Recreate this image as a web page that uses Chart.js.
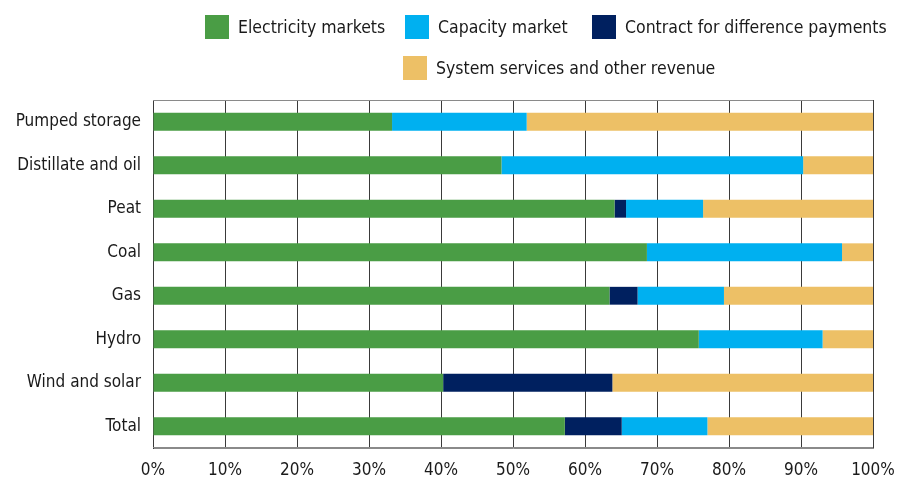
<!DOCTYPE html>
<html>
<head>
<meta charset="utf-8">
<script src="https://cdn.jsdelivr.net/npm/chart.js@4.4.1/dist/chart.umd.min.js"></script>
<style>
  html, body { margin: 0; padding: 0; background: #fff; }
  #wrap { position: relative; width: 900px; height: 480px; }
  #c { position: absolute; left: 0; top: 0; }
  .lg { position: absolute; display: flex; align-items: center; height: 24px;
        font-family: "Liberation Sans Narrow", "DejaVu Sans Condensed", "Roboto", sans-serif;
        font-size: 17.5px; color: #1a1a1a; white-space: nowrap; }
  .lg span.box { display: inline-block; width: 24px; height: 24px; margin-right: 9px; }
</style>
</head>
<body>
<div id="wrap">
  <canvas id="c" width="900" height="480"></canvas>
</div>
<script>
const categories = ["Pumped storage", "Distillate and oil", "Peat", "Coal", "Gas", "Hydro", "Wind and solar", "Total"];
const seriesNames = ["Electricity markets", "Capacity market", "Contract for difference payments", "System services and other revenue"];
const electricityMarkets = [33.2, 48.4, 64.1, 68.6, 63.4, 75.8, 40.3, 57.2];
const capacityMarket     = [18.7, 41.9, 10.7, 27.1, 12.0, 17.2, 0, 11.9];
const cfdPayments        = [0, 0, 1.6, 0, 3.9, 0, 23.5, 7.9];
const systemServices     = [48.1, 9.7, 23.6, 4.3, 20.7, 7.0, 36.2, 23.0];
const xTickLabels = ["0%", "10%", "20%", "30%", "40%", "50%", "60%", "70%", "80%", "90%", "100%"];

const colors = ["#4A9D45", "#00B0F0", "#00205F", "#EDC066"];
const FONT = '"Liberation Sans Narrow", "DejaVu Sans Condensed", Roboto, sans-serif';

// HTML legend (legend order)
const legendPos = [[205, 15], [405, 15], [592, 15], [403, 56]];
const wrap = document.getElementById('wrap');
seriesNames.forEach((name, i) => {
  const d = document.createElement('div');
  d.className = 'lg';
  d.style.left = legendPos[i][0] + 'px';
  d.style.top = legendPos[i][1] + 'px';
  const b = document.createElement('span');
  b.className = 'box';
  b.style.background = colors[i];
  d.appendChild(b);
  d.appendChild(document.createTextNode(name));
  wrap.appendChild(d);
});

const frame = {
  id: 'frame',
  afterDatasetsDraw(chart) {
    const a = chart.chartArea, ctx = chart.ctx;
    ctx.save();
    ctx.strokeStyle = '#8a8a8a';
    ctx.lineWidth = 1;
    ctx.beginPath();
    ctx.moveTo(a.left, a.top + 0.5); ctx.lineTo(a.right, a.top + 0.5);
    ctx.moveTo(a.left, a.bottom - 0.5); ctx.lineTo(a.right, a.bottom - 0.5);
    ctx.stroke();
    ctx.restore();
  }
};

// stacking order: electricity, CfD, capacity, system services
const stackOrder = [0, 2, 1, 3];
const seriesData = [electricityMarkets, capacityMarket, cfdPayments, systemServices];

new Chart(document.getElementById('c'), {
  type: 'bar',
  data: {
    labels: categories,
    datasets: stackOrder.map(i => ({
      label: seriesNames[i],
      data: seriesData[i],
      backgroundColor: colors[i],
      borderWidth: 0,
      barPercentage: 0.41,
      categoryPercentage: 1.0
    }))
  },
  options: {
    indexAxis: 'y',
    responsive: false,
    animation: false,
    devicePixelRatio: 1,
    layout: { padding: { top: 100, right: 27, bottom: 0, left: 0 } },
    plugins: { legend: { display: false }, tooltip: { enabled: false } },
    scales: {
      x: {
        stacked: true,
        min: 0, max: 100,
        ticks: {
          stepSize: 10,
          padding: 12,
          color: '#1a1a1a',
          font: { family: FONT, size: 17 },
          callback: (v, i) => xTickLabels[i]
        },
        grid: { color: '#3a3a3a', lineWidth: 1, drawTicks: false },
        border: { display: true, color: '#8a8a8a' },
        afterFit: s => { s.height = 32; s.paddingLeft = 0; s.paddingRight = 0; }
      },
      y: {
        stacked: true,
        ticks: {
          padding: 12,
          color: '#1a1a1a',
          font: { family: FONT, size: 17 }
        },
        grid: { display: false, drawTicks: false },
        border: { display: true, color: '#3a3a3a' },
        afterFit: s => { s.width = 153; s.paddingTop = 0; s.paddingBottom = 0; }
      }
    }
  },
  plugins: [frame]
});
</script>
</body>
</html>
